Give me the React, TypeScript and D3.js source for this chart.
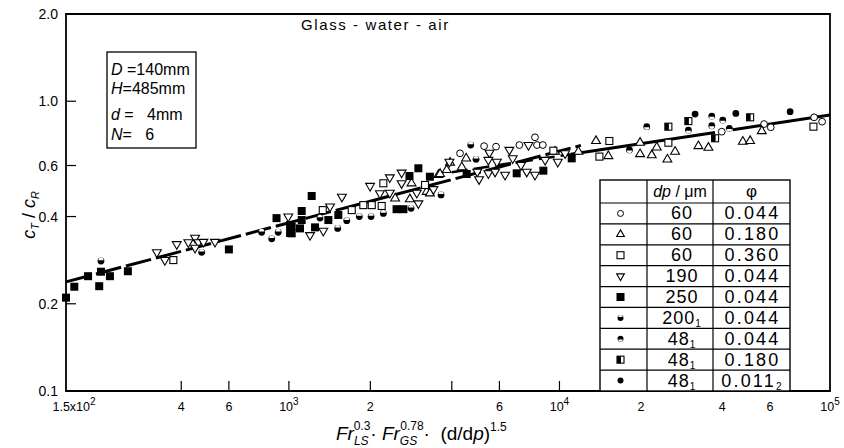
import React from "react";
import * as d3 from "d3";

// ---- data (x = Fr_LS^0.3 * Fr_GS^0.78 * (d/dp)^1.5, y = cT/cR) ----
const dp60phi044: [number, number][] = [
  [4290, 0.661], [5265, 0.7], [5830, 0.697], [7110, 0.706], [8120, 0.751],
  [8260, 0.706], [8680, 0.706], [39800, 0.785], [57060, 0.834], [60410, 0.813],
  [87360, 0.88], [93500, 0.85],
];

const dp60phi180: [number, number][] = [
  [2470, 0.462], [2800, 0.459], [3230, 0.487], [3570, 0.557], [2840, 0.521],
  [3320, 0.481], [3940, 0.614], [4520, 0.635], [3620, 0.561], [3830, 0.579],
  [4355, 0.592], [9630, 0.67], [11750, 0.67], [13650, 0.729], [15160, 0.647],
  [19860, 0.719], [19860, 0.657], [21940, 0.651], [22890, 0.693], [26750, 0.67],
  [25060, 0.63], [32630, 0.7], [35530, 0.691], [47620, 0.725], [50670, 0.729],
  [55960, 0.789],
];

const dp60phi360: [number, number][] = [
  [374, 0.283], [1334, 0.421], [1707, 0.421], [1884, 0.438], [2024, 0.438],
  [2203, 0.435], [2234, 0.521], [3185, 0.514], [9495, 0.675], [15290, 0.729],
  [14050, 0.644], [25270, 0.719], [86850, 0.817],
];

const dp190phi044: [number, number][] = [
  [325, 0.301], [348, 0.283], [385, 0.321], [425, 0.326], [450, 0.338],
  [463, 0.326], [483, 0.327], [450, 0.312], [533, 0.327], [995, 0.4],
  [1570, 0.468], [1995, 0.51], [2360, 0.546], [2610, 0.567], [2610, 0.521],
  [2170, 0.481], [2360, 0.483], [2970, 0.483], [3010, 0.444], [3420, 0.497],
  [1197, 0.345], [1340, 0.357], [1419, 0.433], [5510, 0.664], [6530, 0.679],
  [7680, 0.706], [6720, 0.635], [5460, 0.627], [5870, 0.618], [4970, 0.571],
  [5045, 0.538], [5461, 0.564], [5780, 0.571], [6295, 0.557], [7210, 0.602],
  [7570, 0.571], [8120, 0.557], [8850, 0.627], [9860, 0.618], [10490, 0.661],
  [3920, 0.618],
];

const dp250phi044: [number, number][] = [
  [150, 0.21], [161, 0.229], [181, 0.249], [202, 0.258], [199, 0.23],
  [218, 0.249], [254, 0.259], [600, 0.308], [900, 0.395], [1010, 0.374],
  [1010, 0.351], [1214, 0.471], [1115, 0.418], [1115, 0.389], [1024, 0.369],
  [1024, 0.35], [1099, 0.364], [1249, 0.367], [1399, 0.389], [1523, 0.405],
  [2500, 0.424], [2650, 0.424], [3010, 0.587], [2790, 0.552], [3320, 0.549],
  [4540, 0.561], [6950, 0.564], [8720, 0.576], [11100, 0.635],
];

const dp200phi044: [number, number][] = [
  [202, 0.281], [476, 0.301], [793, 0.353], [864, 0.335], [913, 0.353],
  [1303, 0.395], [1515, 0.364], [1636, 0.387], [1821, 0.4], [2012, 0.4],
  [2234, 0.41], [2828, 0.427], [3651, 0.475], [4700, 0.706], [4917, 0.63],
];

const dp48phi044: [number, number][] = [
  [21020, 0.817], [36560, 0.889], [36560, 0.823], [40140, 0.861],
  [29960, 0.795], [42460, 0.806], [18140, 0.679],
];

const dp48phi180: [number, number][] = [
  [25270, 0.817], [29960, 0.854], [50670, 0.88], [37610, 0.745],
];

const dp48phi011: [number, number][] = [
  [31720, 0.903], [44860, 0.908], [71210, 0.92],
];

// correlation lines (end points)
const fitLow: [number, number][] = [[150, 0.238], [12000, 0.704]];
const fitHighDashed: [number, number][] = [[4000, 0.569], [11000, 0.656]];
const fitHighSolid: [number, number][] = [[11000, 0.656], [100000, 0.896]];

// ticks
const xTicks = [150, 400, 600, 1000, 2000, 4000, 6000, 10000, 20000, 40000, 60000, 100000];
const xTickBase = ["1.5x10", "4", "6", "10", "2", "", "6", "10", "2", "4", "6", "10"];
const xTickSup = ["2", "", "", "3", "", "", "", "4", "", "", "", "5"];
const yTicks = [0.1, 0.2, 0.4, 0.6, 1.0, 2.0];
const yTickLabels = ["0.1", "0.2", "0.4", "0.6", "1.0", "2.0"];

// legend table
const legendKinds = ["circle", "triUp", "square", "triDown", "squareFill", "halfLow", "halfTop", "halfSquare", "dot"];
const legendDp = ["60", "60", "60", "190", "250", "200", "48", "48", "48"];
const legendDpSub = ["", "", "", "", "", "1", "1", "1", "1"];
const legendPhi = ["0.044", "0.180", "0.360", "0.044", "0.044", "0.044", "0.044", "0.180", "0.011"];
const legendPhiSub = ["", "", "", "", "", "", "", "", "2"];

const seriesList: { kind: string; data: [number, number][] }[] = [
  { kind: "circle", data: dp60phi044 },
  { kind: "triUp", data: dp60phi180 },
  { kind: "square", data: dp60phi360 },
  { kind: "triDown", data: dp190phi044 },
  { kind: "squareFill", data: dp250phi044 },
  { kind: "halfLow", data: dp200phi044 },
  { kind: "halfTop", data: dp48phi044 },
  { kind: "halfSquare", data: dp48phi180 },
  { kind: "dot", data: dp48phi011 },
];

const FONT = "'Liberation Sans', Arial, sans-serif";
const tri = d3.symbol().type(d3.symbolTriangle).size(34)() as string;
const triSmall = d3.symbol().type(d3.symbolTriangle).size(26)() as string;

function Marker({ kind, cx, cy, small }: { kind: string; cx: number; cy: number; small?: boolean }) {
  const r = small ? 3 : 3.4;
  const t = `translate(${cx},${cy})`;
  const tr = small ? triSmall : tri;
  switch (kind) {
    case "circle":
      return <circle transform={t} r={r} fill="#fff" stroke="#000" strokeWidth={1} />;
    case "triUp":
      return <path transform={t} d={tr} fill="#fff" stroke="#000" strokeWidth={1.1} />;
    case "triDown":
      return <path transform={`${t} rotate(180)`} d={tr} fill="#fff" stroke="#000" strokeWidth={1.1} />;
    case "square":
      return <rect transform={t} x={-3.5} y={-3.5} width={7} height={7} fill="#fff" stroke="#000" strokeWidth={1.1} />;
    case "squareFill":
      return <rect transform={t} x={-4} y={-4} width={8} height={8} fill="#000" />;
    case "halfLow":
      return (
        <g transform={t}>
          <circle r={r} fill="#000" />
          <path d={`M${-r + 0.8},-0.8 A${r - 0.8},${r - 0.8} 0 0 1 ${r - 0.8},-0.8 Z`} fill="#fff" />
        </g>
      );
    case "halfTop":
      return (
        <g transform={t}>
          <circle r={r} fill="#000" />
          <path d={`M${-r + 0.8},0.6 A${r - 0.8},${r - 0.8} 0 0 0 ${r - 0.8},0.6 Z`} fill="#fff" />
        </g>
      );
    case "halfSquare":
      return (
        <g transform={t}>
          <rect x={-3.5} y={-3.5} width={7} height={7} fill="#fff" stroke="#000" strokeWidth={1.1} />
          <rect x={-3.5} y={-3.5} width={4} height={7} fill="#000" />
        </g>
      );
    default:
      return <circle transform={t} r={r} fill="#000" />;
  }
}

export default function App() {
  const left = 66, right = 830, top = 14, bottom = 391;
  const x = d3.scaleLog().domain([150, 100000]).range([left, right]);
  const y = d3.scaleLog().domain([0.1, 2.0]).range([bottom, top]);
  const line = d3.line<[number, number]>().x((d) => x(d[0])).y((d) => y(d[1]));

  // table layout
  const tX = [600, 647, 713, 790];
  const headTop = 180, headBottom = 203;
  const rows = d3.scaleBand<number>().domain(d3.range(legendDp.length)).range([headBottom, bottom]);

  return (
    <svg width={844} height={448} style={{ position: "absolute", left: 0, top: 0, background: "#fff" }}
      fontFamily={FONT}>
      <rect width={844} height={448} fill="#fff" />

      {/* frame */}
      <path d={`M${left},${top} H${right} V${bottom} H${left} Z`} fill="none" stroke="#000" strokeWidth={1.8} />

      {/* y ticks */}
      {yTicks.map((v, i) => (
        <g key={"yt" + i}>
          {v > 0.1 && v < 2 && <line x1={left} x2={left + 10} y1={y(v)} y2={y(v)} stroke="#000" strokeWidth={1.2} />}
          <text x={58} y={y(v) + 5} textAnchor="end" fontSize={14}>{yTickLabels[i]}</text>
        </g>
      ))}

      {/* x ticks */}
      {xTicks.map((v, i) => (
        <g key={"xt" + i}>
          {v > 150 && v < 100000 && <line x1={x(v)} x2={x(v)} y1={bottom} y2={bottom - 10} stroke="#000" strokeWidth={1.2} />}
          <text x={x(v) + (i === 0 ? 8 : 0)} y={bottom + 20} textAnchor="middle" fontSize={12.5}>
            {xTickBase[i]}
            {xTickSup[i] && <tspan dy={-6} fontSize={10}>{xTickSup[i]}</tspan>}
          </text>
        </g>
      ))}

      {/* axis titles */}
      <text x={336} y={440} fontSize={19}>
        <tspan fontStyle="italic">Fr</tspan>
        <tspan fontSize={12} fontStyle="italic" dy={5}>LS</tspan>
        <tspan fontSize={12} dx={-15} dy={-15}>0.3</tspan>
        <tspan dy={10}>{"\u00b7 "}</tspan>
        <tspan fontStyle="italic">Fr</tspan>
        <tspan fontSize={12} fontStyle="italic" dy={5}>GS</tspan>
        <tspan fontSize={12} dx={-17} dy={-15}>0.78</tspan>
        <tspan dy={10}>{"\u00b7 \u00a0(d/d"}</tspan>
        <tspan fontStyle="italic">p</tspan>
        <tspan>)</tspan>
        <tspan fontSize={12} dy={-9}>1.5</tspan>
      </text>
      <text transform="translate(35,215) rotate(-90)" textAnchor="middle" fontSize={18}>
        <tspan fontStyle="italic">c</tspan>
        <tspan fontSize={11} fontStyle="italic" dy={4}>T</tspan>
        <tspan dy={-4}>{" / "}</tspan>
        <tspan fontStyle="italic">c</tspan>
        <tspan fontSize={11} fontStyle="italic" dy={4}>R</tspan>
      </text>

      {/* title */}
      <text x={301} y={30} fontSize={15} letterSpacing={1.6}>Glass - water - air</text>

      {/* parameter box */}
      <rect x={107} y={52} width={89} height={96} fill="#fff" stroke="#000" strokeWidth={1.3} />
      <g fontSize={16}>
        <text x={111} y={75}><tspan fontStyle="italic">D</tspan>{"\u00a0=140mm"}</text>
        <text x={111} y={94}><tspan fontStyle="italic">H</tspan>=485mm</text>
        <text x={111} y={120}><tspan fontStyle="italic">d</tspan>{"\u00a0=\u00a0\u00a0\u00a04mm"}</text>
        <text x={111} y={140}><tspan fontStyle="italic">N</tspan>{"=\u00a0\u00a0\u00a06"}</text>
      </g>

      {/* correlation lines */}
      <path d={line(fitLow) || ""} fill="none" stroke="#000" strokeWidth={3} strokeDasharray="26,5" />
      <path d={line(fitHighDashed) || ""} fill="none" stroke="#000" strokeWidth={2.6} strokeDasharray="16,6" />
      <path d={line(fitHighSolid) || ""} fill="none" stroke="#000" strokeWidth={3} strokeDasharray="146,18,400" />

      {/* points */}
      {seriesList.map((s, si) => (
        <g key={"s" + si}>
          {s.data.map((d, i) => (
            <Marker key={i} kind={s.kind} cx={x(d[0])} cy={y(d[1])} />
          ))}
        </g>
      ))}

      {/* legend table */}
      <rect x={tX[0]} y={headTop} width={tX[3] - tX[0]} height={bottom - headTop} fill="#fff" stroke="#000" strokeWidth={1.4} />
      <line x1={tX[1]} x2={tX[1]} y1={headTop} y2={bottom} stroke="#000" strokeWidth={1.2} />
      <line x1={tX[2]} x2={tX[2]} y1={headTop} y2={bottom} stroke="#000" strokeWidth={1.2} />
      <text x={(tX[1] + tX[2]) / 2} y={headBottom - 6} textAnchor="middle" fontSize={16}>
        <tspan fontStyle="italic">dp</tspan> / μm
      </text>
      <text x={(tX[2] + tX[3]) / 2} y={headBottom - 6} textAnchor="middle" fontSize={17}>φ</text>
      {legendDp.map((dp, i) => {
        const yy = rows(i) as number;
        const cy = yy + rows.bandwidth() / 2;
        return (
          <g key={"lg" + i}>
            <line x1={tX[0]} x2={tX[3]} y1={yy} y2={yy} stroke="#000" strokeWidth={1.2} />
            <Marker kind={legendKinds[i]} cx={(tX[0] + tX[1]) / 2 - 3} cy={cy} small />
            <text x={(tX[1] + tX[2]) / 2 + 2} y={cy + 6} textAnchor="middle" fontSize={18} letterSpacing={1}>
              {dp}
              {legendDpSub[i] && <tspan fontSize={10} dy={3}>{legendDpSub[i]}</tspan>}
            </text>
            <text x={(tX[2] + tX[3]) / 2 + 1} y={cy + 6} textAnchor="middle" fontSize={18} letterSpacing={2.2}>
              {legendPhi[i]}
              {legendPhiSub[i] && <tspan fontSize={10} dy={3}>{legendPhiSub[i]}</tspan>}
            </text>
          </g>
        );
      })}
    </svg>
  );
}
